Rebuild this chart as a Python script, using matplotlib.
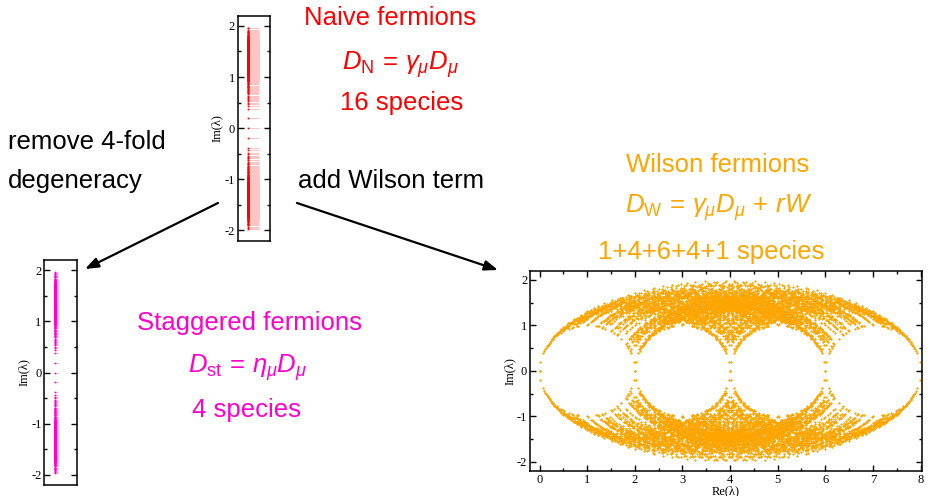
import numpy as np
import matplotlib.pyplot as plt

# free lattice Dirac operators on an L_x*L_y*L_z*L_t lattice
lattice = [10, 12, 14, 32]
bc_phase = [0.0, 0.0, 0.0, 0.0]   # periodic in every direction
wilson_r = 1.0

ranges = [(2 * np.pi * np.arange(L) + th) / L for L, th in zip(lattice, bc_phase)]
p = np.meshgrid(*ranges, indexing='ij')
sin2 = sum(np.sin(pm) ** 2 for pm in p).ravel()
wterm = wilson_r * sum(1 - np.cos(pm) for pm in p).ravel()

# naive / staggered: purely imaginary eigenvalues
im_naive = np.sqrt(sin2)
im_naive = np.unique(np.round(np.concatenate([im_naive, -im_naive]), 6))

# Wilson: lambda = W(p) +- i sqrt(sum sin^2)
pts = np.unique(np.round(np.stack([wterm, np.sqrt(sin2)], axis=1), 6), axis=0)
re_w = np.concatenate([pts[:, 0], pts[:, 0]])
im_w = np.concatenate([pts[:, 1], -pts[:, 1]])

red = '#ff0000'
pink = '#ffc4c4'
magenta = '#ff00cc'
lightmag = '#ffb4e4'
orange = '#ffa500'

plt.rcParams['font.family'] = ['Liberation Sans', 'DejaVu Sans']
plt.rcParams['mathtext.fontset'] = 'custom'
plt.rcParams['mathtext.it'] = 'Liberation Sans:italic'
plt.rcParams['mathtext.rm'] = 'Liberation Sans'
plt.rcParams['mathtext.sf'] = 'Liberation Sans'
plt.rcParams['axes.unicode_minus'] = False

fig = plt.figure(figsize=(9.3, 4.96), dpi=100)
W, H = 930, 496


def panel(x0, y0, x1, y1):
    return fig.add_axes([x0 / W, 1 - y1 / H, (x1 - x0) / W, (y1 - y0) / H])


def style(ax, xticks=False):
    for s in ax.spines.values():
        s.set_linewidth(1.1)
    ax.set_ylim(-2.2, 2.2)
    ax.set_yticks([-2, -1, 0, 1, 2])
    ax.set_yticks(np.arange(-2, 2.01, 0.5), minor=True)
    ax.tick_params(which='both', direction='in', right=True, top=True,
                   width=1.0, labelsize=9, pad=2)
    ax.tick_params(which='major', length=4)
    ax.tick_params(which='minor', length=2.5)
    for lab in ax.get_yticklabels() + ax.get_xticklabels():
        lab.set_family('Liberation Serif')
    ax.set_ylabel('Im(λ)', family='Liberation Serif', fontsize=9, labelpad=1)
    if not xticks:
        ax.set_xticks([])


# naive fermions
ax1 = panel(237.7, 15.7, 270, 240.7)
ax1.set_xlim(-1, 2)
ax1.hlines(im_naive, 0.05, 1.0, color=pink, lw=0.7)
ax1.plot(np.zeros_like(im_naive), im_naive, 's', color=red, ms=1.2, mew=0)
style(ax1)

# staggered fermions
ax2 = panel(44.3, 260, 77.3, 485)
ax2.set_xlim(-1, 2)
ax2.hlines(im_naive, -0.12, 0.2, color=lightmag, lw=0.7)
ax2.plot(np.zeros_like(im_naive), im_naive, 's', color=magenta, ms=1.2, mew=0)
style(ax2)

# Wilson fermions
ax3 = panel(530, 270.7, 922, 471)
ax3.scatter(re_w, im_w, s=2.2, color=orange, lw=0, marker='D')
ax3.set_xlim(-0.2, 8.03)
style(ax3, xticks=True)
ax3.set_xticks(range(0, 9))
ax3.set_xticks(np.arange(0, 8.01, 0.5), minor=True)
for lab in ax3.get_xticklabels():
    lab.set_family('Liberation Serif')
ax3.set_xlabel('Re(λ)', family='Liberation Serif', fontsize=9, labelpad=0)


def txt(x, y, s, c, ha='center'):
    fig.text(x / W, 1 - y / H, s, color=c, fontsize=18.5, ha=ha, va='center')


txt(390, 18, 'Naive fermions', red)
txt(400, 65, r'$D_{\mathrm{N}}\,=\,\gamma_\mu D_\mu$', red)
txt(402, 103, '16 species', red)

txt(718, 165, 'Wilson fermions', orange)
txt(719, 208, r'$D_{\mathrm{W}}\,=\,\gamma_\mu D_\mu\,+\,rW$', orange)
txt(711, 252, '1+4+6+4+1 species', orange)

txt(249, 323, 'Staggered fermions', magenta)
txt(248, 368, r'$D_{\mathrm{st}}\,=\,\eta_\mu D_\mu$', magenta)
txt(247, 410, '4 species', magenta)

txt(8, 142, 'remove 4-fold', 'black', ha='left')
txt(8, 181, 'degeneracy', 'black', ha='left')
txt(298, 181, 'add Wilson term', 'black', ha='left')

arrow = dict(arrowstyle='-|>,head_length=0.8,head_width=0.3', color='black', lw=1.6,
             shrinkA=0, shrinkB=0)
fig.add_artist(plt.Annotation('', xy=(85 / W, 1 - 269 / H), xytext=(218 / W, 1 - 203 / H),
                              xycoords='figure fraction', arrowprops=arrow))
fig.add_artist(plt.Annotation('', xy=(498 / W, 1 - 270 / H), xytext=(297 / W, 1 - 203 / H),
                              xycoords='figure fraction', arrowprops=arrow))

plt.savefig('out.png', dpi=100)
